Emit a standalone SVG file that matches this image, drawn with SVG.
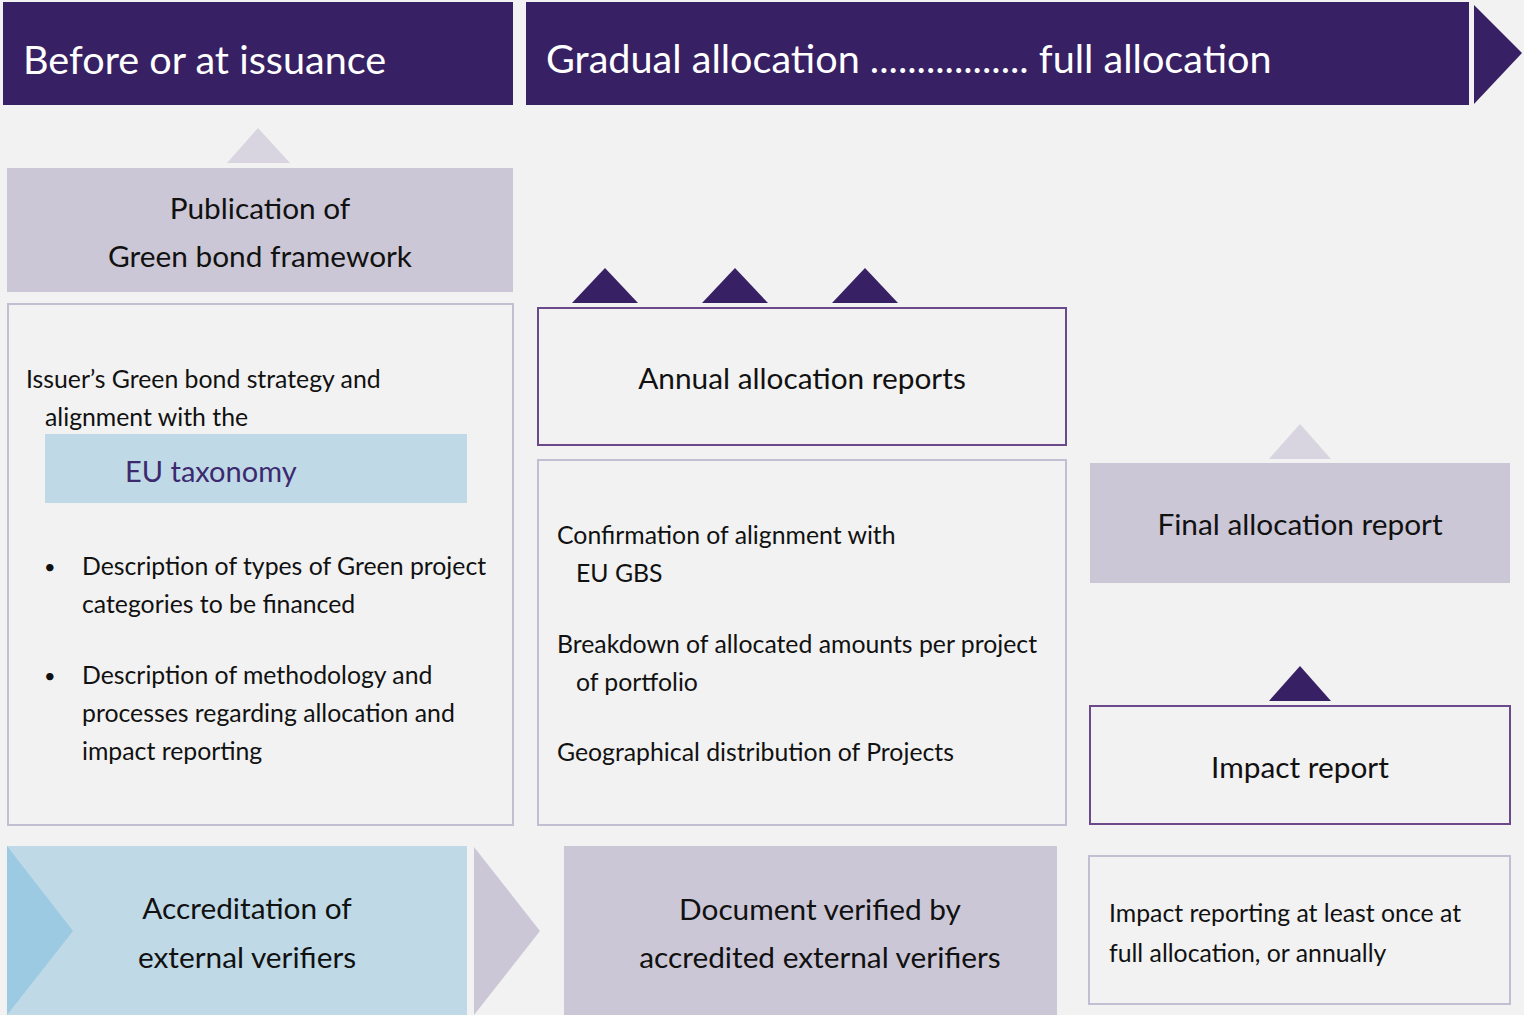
<svg xmlns="http://www.w3.org/2000/svg" width="1524" height="1015" viewBox="0 0 1524 1015">
  <defs>
    <style>
      .hdr { fill: #372063; }
      .hdr-t { font-family: Lato, "Open Sans", sans-serif; font-size: 39.6px; fill: #ffffff; }
      .lbl { font-family: Lato, "Open Sans", sans-serif; font-size: 29.8px; fill: #111111; text-anchor: middle; }
      .body { font-family: Lato, "Open Sans", sans-serif; font-size: 24.8px; fill: #111111; }
      .bullet { font-family: Lato, "Open Sans", sans-serif; font-size: 20px; fill: #111111; }
      .lilac { fill: #cbc7d6; }
      .lilac-tri { fill: #d8d5e0; }
      .dark-tri { fill: #372063; }
      .outline-grey { fill: none; stroke: #c3bfd2; stroke-width: 2; }
      .outline-purple { fill: none; stroke: #6b4a8c; stroke-width: 2; }
      .sky { fill: #c0d9e7; }
    </style>
  </defs>

  <rect width="1524" height="1015" fill="#f2f2f2"/>

  <!-- phase headers -->
  <g id="phase-issuance">
    <rect class="hdr" x="3" y="2" width="510" height="103"/>
    <text class="hdr-t" x="23" y="74">Before or at issuance</text>
  </g>
  <g id="phase-allocation">
    <rect class="hdr" x="526" y="2" width="943" height="103"/>
    <polygon class="hdr" points="1474,5 1522,53 1474,104"/>
    <text class="hdr-t" x="546" y="73">Gradual allocation ................. full allocation</text>
  </g>

  <!-- connectors: pointer triangles and chevrons -->
  <g id="connectors">
    <polygon class="lilac-tri" points="227,163 258,128 290,163"/>
    <polygon class="dark-tri" points="572,303 605,268 638,303"/>
    <polygon class="dark-tri" points="702,303 735,268 768,303"/>
    <polygon class="dark-tri" points="832,303 865,268 898,303"/>
    <polygon class="lilac-tri" points="1269,459 1300,424 1331,459"/>
    <polygon class="dark-tri" points="1269,701 1300,666 1331,701"/>
    <polygon class="lilac" points="474,847 540,931 474,1015"/>
  </g>

  <!-- first column -->
  <g id="framework">
    <rect class="lilac" x="7" y="168" width="506" height="124"/>
    <text class="lbl" x="260" y="219">Publication of</text>
    <text class="lbl" x="260" y="267">Green bond framework</text>
  </g>
  <g id="strategy">
    <rect class="outline-grey" x="8" y="304" width="505" height="521"/>
    <text class="body" x="26" y="388">Issuer’s Green bond strategy and</text>
    <text class="body" x="45" y="426">alignment with the</text>
    <rect class="sky" x="45" y="434" width="422" height="69"/>
    <text x="125" y="482" font-family="Lato, 'Open Sans', sans-serif" font-size="29" fill="#3c2a6e">EU taxonomy</text>
    <text class="bullet" x="44" y="574">•</text>
    <text class="body" x="82" y="575">Description of types of Green project</text>
    <text class="body" x="82" y="613">categories to be financed</text>
    <text class="bullet" x="44" y="683">•</text>
    <text class="body" x="82" y="684">Description of methodology and</text>
    <text class="body" x="82" y="722">processes regarding allocation and</text>
    <text class="body" x="82" y="760">impact reporting</text>
  </g>
  <g id="accreditation">
    <rect class="sky" x="7" y="846" width="460" height="169"/>
    <polygon fill="#9ccae2" points="7,846 73,931 7,1015"/>
    <text class="lbl" x="247" y="919">Accreditation of</text>
    <text class="lbl" x="247" y="968">external verifiers</text>
  </g>

  <!-- second column -->
  <g id="annual-reports">
    <rect class="outline-purple" x="538" y="308" width="528" height="137"/>
    <text class="lbl" x="802" y="389">Annual allocation reports</text>
  </g>
  <g id="annual-contents">
    <rect class="outline-grey" x="538" y="460" width="528" height="365"/>
    <text class="body" x="557" y="544">Confirmation of alignment with</text>
    <text class="body" x="576" y="582">EU GBS</text>
    <text class="body" x="557" y="653">Breakdown of allocated amounts per project</text>
    <text class="body" x="576" y="691">of portfolio</text>
    <text class="body" x="557" y="761">Geographical distribution of Projects</text>
  </g>
  <g id="verified">
    <rect class="lilac" x="564" y="846" width="493" height="169"/>
    <text class="lbl" x="820" y="920">Document verified by</text>
    <text class="lbl" x="820" y="968">accredited external verifiers</text>
  </g>

  <!-- third column -->
  <g id="final-report">
    <rect class="lilac" x="1090" y="463" width="420" height="120"/>
    <text class="lbl" x="1300" y="535">Final allocation report</text>
  </g>
  <g id="impact-report">
    <rect class="outline-purple" x="1090" y="706" width="420" height="118"/>
    <text class="lbl" x="1300" y="778">Impact report</text>
  </g>
  <g id="impact-frequency">
    <rect class="outline-grey" x="1089" y="856" width="421" height="148"/>
    <text class="body" x="1109" y="922">Impact reporting at least once at</text>
    <text class="body" x="1109" y="962">full allocation, or annually</text>
  </g>
</svg>
